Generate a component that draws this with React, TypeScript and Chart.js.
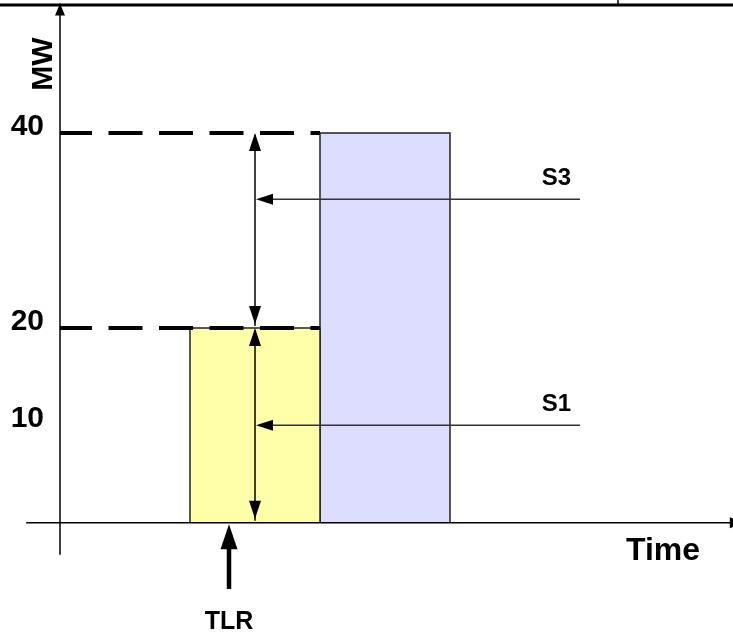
import React, { useEffect, useRef } from 'react';
import { Chart, registerables } from 'chart.js';

Chart.register(...registerables);

// ---- data ----
const barLabels = ['S1', 'S3'];
const barStart = [1, 2];
const barEnd = [2, 3];
const barValues = [20, 40];
const barColors = ['#FFFFAA', '#DDDDFF'];

const tickValues = [10, 20, 40];
const levelValues = [20, 40];
const levelFrom = 0;
const levelTo = 2;

const spanArrowX = 1.5;
const spanArrowLevels = [0, 20, 40];

const signalLabels = ['S1', 'S3'];
const signalLevels = [10, 33.2];
const signalFrom = 4;
const signalTo = 1.5;

const tlrLabel = 'TLR';
const tlrX = 1.3;
const tlrArrowRange = [-6.8, -0.15];

const xAxisRange = [-0.26, 5.26];
const yAxisRange = [-3.3, 53.3];
const xTitle = 'Time';
const yTitle = 'MW';

const X_MIN = -60 / 130;
const X_MAX = X_MIN + 733 / 130;
const Y_MAX = 522.7 / 9.74;
const Y_MIN = Y_MAX - 635 / 9.74;

const FONT = '"Liberation Sans", Arial, sans-serif';

function arrowHead(ctx: CanvasRenderingContext2D, tx: number, ty: number, dx: number, dy: number, len: number, half: number) {
  const px = -dy, py = dx;
  const bx = tx - dx * len, by = ty - dy * len;
  ctx.beginPath();
  ctx.moveTo(tx, ty);
  ctx.lineTo(bx + px * half, by + py * half);
  ctx.lineTo(bx - px * half, by - py * half);
  ctx.closePath();
  ctx.fill();
}

const diagramPlugin = {
  id: 'diagram',
  afterDatasetsDraw(chart: any) {
    const ctx: CanvasRenderingContext2D = chart.ctx;
    const xs = chart.scales.x;
    const ys = chart.scales.y;
    const X = (v: number) => xs.getPixelForValue(v);
    const Y = (v: number) => ys.getPixelForValue(v);
    ctx.save();
    ctx.fillStyle = '#000';
    ctx.strokeStyle = '#000';
    ctx.lineCap = 'butt';

    // frame line at top
    ctx.lineWidth = 3;
    ctx.beginPath();
    ctx.moveTo(0, 5);
    ctx.lineTo(733, 5);
    ctx.stroke();
    ctx.lineWidth = 1.5;
    ctx.beginPath();
    ctx.moveTo(618, 0);
    ctx.lineTo(618, 5);
    ctx.stroke();

    // axis arrowheads
    arrowHead(ctx, X(0), Y(yAxisRange[1]), 0, -1, 12, 5);
    arrowHead(ctx, X(xAxisRange[1]), Y(0), 1, 0, 14, 5.5);

    // span double arrows
    ctx.lineWidth = 1.5;
    for (let i = 0; i < spanArrowLevels.length - 1; i++) {
      const a = Y(spanArrowLevels[i]);
      const b = Y(spanArrowLevels[i + 1]);
      const x = X(spanArrowX);
      ctx.beginPath();
      ctx.moveTo(x, a - 2);
      ctx.lineTo(x, b + 2);
      ctx.stroke();
      arrowHead(ctx, x, b, 0, -1, 18, 6);
      arrowHead(ctx, x, a - 4, 0, 1, 18, 6);
    }

    // signal arrows
    for (let i = 0; i < signalLevels.length; i++) {
      const y = Y(signalLevels[i]);
      ctx.strokeStyle = '#333';
      ctx.lineWidth = 1.5;
      ctx.beginPath();
      ctx.moveTo(X(signalFrom), y);
      ctx.lineTo(X(signalTo) + 4, y);
      ctx.stroke();
      arrowHead(ctx, X(signalTo) + 1, y, -1, 0, 17, 5.5);
      ctx.font = `bold 24px ${FONT}`;
      ctx.textAlign = 'right';
      ctx.textBaseline = 'alphabetic';
      ctx.fillText(signalLabels[i], X(signalFrom) - 9, y - 14);
    }

    // TLR arrow
    ctx.strokeStyle = '#000';
    ctx.lineWidth = 4.5;
    const tx = X(tlrX);
    ctx.beginPath();
    ctx.moveTo(tx, Y(tlrArrowRange[0]));
    ctx.lineTo(tx, Y(tlrArrowRange[1]) + 20);
    ctx.stroke();
    arrowHead(ctx, tx, Y(tlrArrowRange[1]), 0, -1, 25, 8.5);
    ctx.font = `bold 25px ${FONT}`;
    ctx.textAlign = 'center';
    ctx.fillText(tlrLabel, tx, 629);

    // tick labels
    ctx.font = `bold 30px ${FONT}`;
    ctx.textAlign = 'right';
    for (const t of tickValues) {
      ctx.fillText(String(t), X(0) - 16, Y(t) + 2);
    }

    // axis titles
    ctx.font = `bold 32px ${FONT}`;
    ctx.textAlign = 'left';
    ctx.fillText(xTitle, 626, 560);

    ctx.save();
    ctx.translate(41, 64);
    ctx.rotate(-Math.PI / 2);
    ctx.font = `bold 30px ${FONT}`;
    ctx.textAlign = 'center';
    ctx.fillText(yTitle, 0, 10.8);
    ctx.restore();

    ctx.restore();
  },
};

export default function App() {
  const ref = useRef<HTMLCanvasElement>(null);
  useEffect(() => {
    document.body.style.margin = '0';
    const canvas = ref.current!;
    const datasets: any[] = [];
    levelValues.forEach((v) => {
      datasets.push({
        label: 'level ' + v,
        data: [{ x: levelFrom, y: v }, { x: levelTo, y: v }],
        borderColor: '#000',
        borderWidth: 4,
        borderDash: [34, 16.5],
        borderDashOffset: 2,
        pointRadius: 0,
        fill: false,
        order: 1,
      });
    });
    datasets.push({
      label: 'x axis',
      data: [{ x: xAxisRange[0], y: 0 }, { x: xAxisRange[1], y: 0 }],
      borderColor: '#000',
      borderWidth: 1.5,
      pointRadius: 0,
      fill: false,
      order: 2,
    });
    datasets.push({
      label: 'y axis',
      data: [{ x: 0, y: yAxisRange[0] }, { x: 0, y: yAxisRange[1] }],
      borderColor: '#000',
      borderWidth: 1.5,
      pointRadius: 0,
      fill: false,
      order: 2,
    });
    barValues.forEach((v, i) => {
      datasets.push({
        label: barLabels[i],
        data: [
          { x: barStart[i], y: 0 },
          { x: barStart[i], y: v },
          { x: barEnd[i], y: v },
          { x: barEnd[i], y: 0 },
        ],
        borderColor: '#222',
        borderWidth: 1.5,
        backgroundColor: barColors[i],
        pointRadius: 0,
        fill: 'origin',
        tension: 0,
        order: 3,
      });
    });
    const chart = new Chart(canvas, {
      type: 'line',
      data: { datasets },
      options: {
        animation: false,
        responsive: false,
        devicePixelRatio: 1,
        layout: { padding: 0 },
        plugins: { legend: { display: false }, tooltip: { enabled: false } },
        events: [],
        scales: {
          x: { type: 'linear', min: X_MIN, max: X_MAX, display: false },
          y: { type: 'linear', min: Y_MIN, max: Y_MAX, display: false },
        },
      },
      plugins: [diagramPlugin],
    });
    return () => chart.destroy();
  }, []);
  return (
    <div style={{ position: 'absolute', left: 0, top: 0, width: 733, height: 635, background: '#fff' }}>
      <canvas ref={ref} width={733} height={635} style={{ display: 'block', width: 733, height: 635 }} />
    </div>
  );
}
